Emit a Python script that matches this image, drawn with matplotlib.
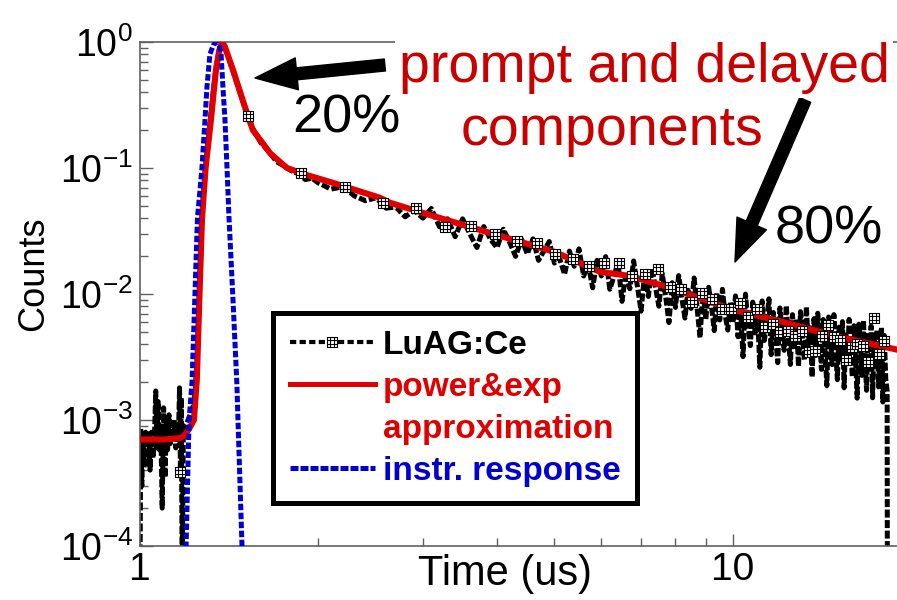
import matplotlib
matplotlib.use("Agg")
import matplotlib.pyplot as plt
import numpy as np
from matplotlib.path import Path
from matplotlib.lines import Line2D
from matplotlib.ticker import NullFormatter

plt.rcParams['font.family'] = ['Liberation Sans', 'DejaVu Sans']
plt.rcParams['mathtext.fontset'] = 'custom'
plt.rcParams['mathtext.rm'] = 'Liberation Sans'

# LuAG:Ce decay curve (time in us, normalised counts)
t_meas = [1.000, 1.003, 1.007, 1.011, 1.016, 1.022, 1.028, 1.034, 1.040, 1.046,
          1.052, 1.058, 1.063, 1.068, 1.073, 1.078, 1.084, 1.090, 1.096, 1.102,
          1.108, 1.113, 1.119, 1.125, 1.131, 1.137, 1.143, 1.149, 1.155, 1.161,
          1.166, 1.170, 1.174, 1.178, 1.183, 1.188,
          1.200, 1.215, 1.23, 1.24, 1.25, 1.26, 1.272, 1.29, 1.31, 1.33,
          1.345, 1.36, 1.375, 1.39, 1.41, 1.435, 1.46, 1.486, 1.51,
          1.55, 1.6, 1.65, 1.7, 1.75, 1.8, 1.85, 1.9, 1.95, 2.0,
          2.1, 2.2, 2.3, 2.4, 2.5, 2.6, 2.7, 2.8, 2.9, 3.0,
          3.1, 3.2, 3.3, 3.4, 3.5, 3.6, 3.7, 3.8, 3.9, 4.0,
          4.1, 4.2, 4.3, 4.4, 4.5, 4.6, 4.7, 4.8, 4.9, 5.0,
          5.1, 5.2, 5.3, 5.4, 5.5, 5.6, 5.7, 5.8, 5.9, 6.0,
          6.1, 6.2, 6.3, 6.4, 6.5, 6.6, 6.7, 6.8, 6.9, 7.0,
          7.1, 7.2, 7.3, 7.4, 7.5, 7.6, 7.7, 7.8, 7.9, 8.0,
          8.1, 8.2, 8.3, 8.4, 8.5, 8.6, 8.7, 8.8, 8.9, 9.0,
          9.1, 9.2, 9.3, 9.4, 9.5, 9.6, 9.7, 9.8, 9.9, 10.0,
          10.1, 10.2, 10.3, 10.4, 10.5, 10.6, 10.7, 10.8, 10.9, 11.0,
          11.1, 11.2, 11.3, 11.4, 11.5, 11.6, 11.7, 11.8, 11.9, 12.0,
          12.1, 12.2, 12.3, 12.4, 12.5, 12.6, 12.7, 12.8, 12.9, 13.0,
          13.1, 13.2, 13.3, 13.4, 13.5, 13.6, 13.7, 13.8, 13.9, 14.0,
          14.1, 14.2, 14.3, 14.4, 14.5, 14.6, 14.7, 14.8, 14.9, 15.0,
          15.1, 15.2, 15.3, 15.4, 15.5, 15.6, 15.7, 15.8, 15.9, 16.0,
          16.1, 16.2, 16.3, 16.4, 16.5, 16.6, 16.7, 16.8, 16.9, 17.0,
          17.1, 17.2, 17.3, 17.4, 17.5, 17.6, 17.7, 17.8, 17.9, 18.0,
          18.1, 18.2, 18.22]
counts_meas = [5e-5, 8.5e-4, 3e-4, 7.5e-4, 4.2e-4, 8e-4, 4.5e-4, 7.8e-4, 4e-4, 8e-4,
               5e-4, 7.5e-4, 1.7e-3, 6e-4, 1.4e-3, 5.8e-4, 9e-4, 2e-4, 1.25e-3, 3.5e-4,
               1.0e-3, 5.8e-4, 1.1e-3, 6.5e-4, 9.5e-4, 7e-4, 1.0e-3, 6e-4, 9e-4, 7.5e-4,
               1.8e-3, 4e-4, 1.5e-3, 5e-5, 7e-4, 9e-4,
               9.5e-4, 1.1e-3, 1.3e-3, 1.8e-3, 3.5e-3, 1.1e-2, 4.0e-2, 0.105, 0.21, 0.42,
               0.64, 0.86, 0.98, 0.91, 0.76, 0.59, 0.46, 0.355, 0.28,
               0.205, 0.158, 0.135, 0.112, 0.104, 0.095, 0.090, 0.081, 0.083, 0.076,
               0.068, 0.071, 0.060, 0.055, 0.058, 0.048, 0.049, 0.041, 0.046, 0.040,
               0.0477, 0.0341, 0.0395, 0.0285, 0.0395, 0.0300, 0.0234, 0.0343, 0.0272, 0.0233,
               0.0327, 0.0258, 0.0199, 0.0272, 0.0208, 0.0274, 0.0185, 0.0220, 0.0261, 0.0176,
               0.0192, 0.0143, 0.0219, 0.0166, 0.0228, 0.0139, 0.0172, 0.0112, 0.0185, 0.0139,
               0.0198, 0.0109, 0.0138, 0.0178, 0.00874, 0.0149, 0.0110, 0.0183, 0.0116, 0.00731,
               0.0150, 0.00956, 0.0160, 0.0114, 0.00800, 0.0145, 0.00957, 0.00593, 0.0123, 0.00782,
               0.0140, 0.00927, 0.00644, 0.0107, 0.00768, 0.0134, 0.00772, 0.00450, 0.0106, 0.00630,
               0.0113, 0.00803, 0.00512, 0.0102, 0.00622, 0.0109, 0.00689, 0.00517, 0.00866, 0.00592,
               0.00966, 0.00458, 0.00753, 0.00318, 0.00998, 0.00582, 0.00389, 0.00862, 0.00491, 0.00746,
               0.00262, 0.00881, 0.00428, 0.00597, 0.00916, 0.00330, 0.00713, 0.00467, 0.00285, 0.00775,
               0.00520, 0.00357, 0.00810, 0.00462, 0.00276, 0.00686, 0.00383, 0.00601, 0.00266, 0.00725,
               0.00454, 0.00298, 0.00794, 0.00394, 0.00540, 0.00219, 0.00638, 0.00325, 0.00704, 0.00451,
               0.00252, 0.00627, 0.00350, 0.00187, 0.00657, 0.00461, 0.00275, 0.00686, 0.00366, 0.00209,
               0.00546, 0.00305, 0.00604, 0.00180, 0.00495, 0.00270, 0.00629, 0.00359, 0.00219, 0.00560,
               0.00313, 0.00149, 0.00575, 0.00386, 0.00226, 0.00618, 0.00315, 0.00172, 0.00492, 0.00256,
               0.00556, 0.00150, 0.00447, 0.00274, 0.00518, 0.00183, 0.00338, 0.00545, 0.00139, 0.00469,
               0.00213, 0.00170, 1e-5]

# every 0.35 us channel shown with a marker
t_mark = [1.168, 1.52, 1.87, 2.22, 2.57, 2.92, 3.27, 3.62, 3.97, 4.32,
          4.67, 5.02, 5.37, 5.72, 6.07, 6.42, 6.77, 7.12, 7.47, 7.82,
          8.17, 8.52, 8.87, 9.22, 9.57, 9.92, 10.27, 10.62, 10.97, 11.32,
          11.67, 12.02, 12.37, 12.72, 13.07, 13.42, 13.77, 14.12, 14.47, 14.82,
          15.17, 15.52, 15.87, 16.22, 16.57, 16.92, 17.27, 17.62, 17.97]
counts_mark = [3.9e-4, 0.259, 0.091, 0.0707, 0.0527, 0.0482, 0.034, 0.0347, 0.030, 0.0264,
               0.0254, 0.0208, 0.0190, 0.0167, 0.0176, 0.0176, 0.0139, 0.0144, 0.0158, 0.0114,
               0.0110, 0.00865, 0.0102, 0.0091, 0.0076, 0.0076, 0.0085, 0.0066, 0.0076, 0.0055,
               0.0058, 0.0050, 0.0051, 0.00464, 0.0051, 0.00347, 0.00355, 0.00464, 0.00567, 0.00456,
               0.00431, 0.00299, 0.0038, 0.0040, 0.0039, 0.0029, 0.0065, 0.00334, 0.00424]

# power & exp approximation
t_fit = [1.00, 1.10, 1.17, 1.19, 1.21, 1.233, 1.247, 1.26, 1.272, 1.29,
         1.317, 1.343, 1.36, 1.375, 1.39, 1.435, 1.486, 1.52, 1.55, 1.66,
         1.77, 1.91, 2.12, 2.54, 2.64, 3.0, 4.0, 5.0, 5.97, 6.7,
         7.74, 10.0, 12.14, 14.72, 19.0]
counts_fit = [7.0e-4, 7.0e-4, 7.2e-4, 7.6e-4, 8.5e-4, 1.0e-3, 2.1e-3, 1.0e-2, 3.9e-2, 0.10,
              0.24, 0.60, 0.85, 1.0, 0.92, 0.60, 0.36, 0.26, 0.20, 0.13,
              0.10, 0.088, 0.076, 0.058, 0.053, 0.044, 0.0294, 0.0216, 0.0150, 0.0139,
              0.0114, 0.0075, 0.0060, 0.0047, 0.0036]

# instrumental response
t_irf = [1.185, 1.196, 1.21, 1.224, 1.25, 1.272, 1.287, 1.297, 1.312, 1.33,
         1.348, 1.36, 1.37, 1.38, 1.391, 1.402, 1.413, 1.435, 1.457, 1.463,
         1.486, 1.495]
counts_irf = [5e-5, 1e-4, 1e-3, 2e-3, 0.04, 0.1, 0.24, 0.44, 0.8, 0.95,
              1.0, 0.93, 0.8, 0.44, 0.24, 0.1, 0.04, 0.009, 1.9e-3, 1e-3,
              1e-4, 5e-5]

# open square with an inner grid, used as the data marker
g = 1.0 / 3.0
grid_box = Path(
    [(-1, -1), (1, -1), (1, 1), (-1, 1), (-1, -1),
     (-g, -1), (-g, 1), (g, -1), (g, 1),
     (-1, -g), (1, -g), (-1, g), (1, g)],
    [Path.MOVETO, Path.LINETO, Path.LINETO, Path.LINETO, Path.CLOSEPOLY,
     Path.MOVETO, Path.LINETO, Path.MOVETO, Path.LINETO,
     Path.MOVETO, Path.LINETO, Path.MOVETO, Path.LINETO])

RED = '#e00000'
DARKRED = '#c80000'
BLUE = '#0000d0'
GREY = '#606060'

fig = plt.figure(figsize=(8.97, 6.0), dpi=100)
ax = fig.add_axes([140 / 897, 54 / 600, 757 / 897, 504 / 600])

ax.plot(t_meas, counts_meas, color='black', lw=3.6, ls=(0, (1.6, 0.5)), zorder=2)
ax.plot(t_fit, counts_fit, color=RED, lw=4.4, solid_capstyle='butt', zorder=3)
ax.plot(t_irf, counts_irf, color=BLUE, lw=3.6, ls=(0, (1.3, 0.5)), zorder=4)
ax.plot(t_mark, counts_mark, ls='none', marker=grid_box, ms=7.5, mfc='white',
        mec='black', mew=0.8, zorder=5)

ax.set_xscale('log')
ax.set_yscale('log')
ax.set_xlim(1, 18.91)
ax.set_ylim(1e-4, 1)

ax.set_xticks([1, 10], labels=['1', '10'])
ax.set_yticks([1e-4, 1e-3, 1e-2, 1e-1, 1],
              labels=[r'$\mathregular{10^{-4}}$', r'$\mathregular{10^{-3}}$',
                      r'$\mathregular{10^{-2}}$', r'$\mathregular{10^{-1}}$',
                      r'$\mathregular{10^{0}}$'])
ax.xaxis.set_minor_formatter(NullFormatter())
ax.yaxis.set_minor_formatter(NullFormatter())
ax.tick_params(which='both', direction='in', color=GREY, width=1.0)
ax.tick_params(which='major', length=9)
ax.tick_params(which='minor', length=5.5)
ax.tick_params(axis='x', labelsize=28, pad=4)
ax.tick_params(axis='y', labelsize=27, pad=5)

for side in ('left', 'bottom', 'top'):
    ax.spines[side].set_color(GREY)
    ax.spines[side].set_linewidth(1.2)
ax.spines['right'].set_visible(False)

ax.set_xlabel('Time (us)', fontsize=30)
ax.xaxis.set_label_coords(0.482, -0.016)
ax.set_ylabel('Counts', fontsize=26)
ax.yaxis.set_label_coords(-0.118, 0.54)

# legend: the fit label runs over two lines, second line without a handle
h_meas = Line2D([], [], color='black', lw=3.0, ls=(0, (1.5, 0.8)), marker=grid_box,
                ms=7.5, mfc='white', mec='black', mew=0.8)
h_fit = Line2D([], [], color=RED, lw=3.6)
h_none = Line2D([], [], ls='none')
h_irf = Line2D([], [], color=BLUE, lw=3.6, ls=(0, (1.6, 0.4)))
leg = ax.legend([h_meas, h_fit, h_none, h_irf],
                ['LuAG:Ce', 'power&exp', 'approximation', 'instr. response'],
                loc='upper left', bbox_to_anchor=(273 / 897, 1 - 313 / 600),
                bbox_transform=fig.transFigure, borderaxespad=0,
                prop={'weight': 'bold', 'size': 24}, handlelength=2.55,
                handletextpad=0.25, labelspacing=0.33, borderpad=0.5,
                fancybox=False, framealpha=1, edgecolor='black', numpoints=1)
leg.get_frame().set_linewidth(3.6)
for txt, col in zip(leg.get_texts(), ['black', RED, RED, BLUE]):
    txt.set_color(col)

# annotations
arrow = dict(arrowstyle='simple,head_length=2.1,head_width=1.6,tail_width=0.6',
             color='black', shrinkA=0, shrinkB=0, mutation_scale=14.4)
ax.annotate('', xy=(1.563, 0.518), xytext=(2.588, 0.657), arrowprops=arrow, zorder=6)
ax.annotate('', xy=(10.08, 0.01795), xytext=(13.24, 0.3465), arrowprops=arrow, zorder=6)

ax.text(0.666, 0.9206, 'prompt and delayed', transform=ax.transAxes, fontsize=40,
        color=DARKRED, ha='center', va='baseline', zorder=7,
        bbox=dict(facecolor='white', edgecolor='none', pad=3))
ax.text(0.6235, 0.7956, 'components', transform=ax.transAxes, fontsize=40,
        color=DARKRED, ha='center', va='baseline', zorder=7)
ax.text(0.272, 0.821, '20%', transform=ax.transAxes, fontsize=39,
        color='black', ha='center', va='baseline', zorder=7)
ax.text(0.9095, 0.601, '80%', transform=ax.transAxes, fontsize=39,
        color='black', ha='center', va='baseline', zorder=7)

fig.savefig('out.png', dpi=100)
